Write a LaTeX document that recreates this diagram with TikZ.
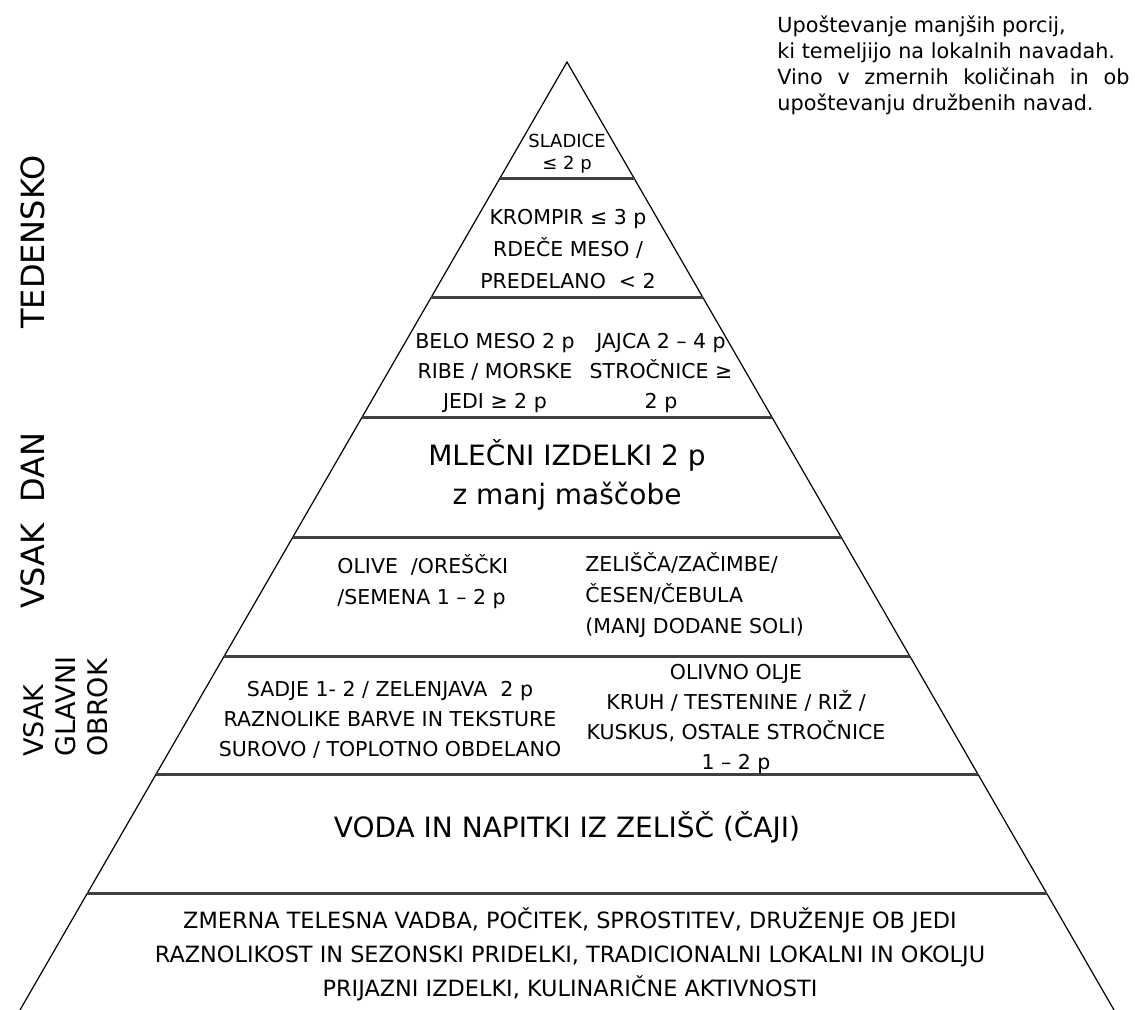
\documentclass[tikz,border=0pt]{standalone}
\usepackage{fontspec}
\setmainfont{DejaVu Sans}
\usetikzlibrary{calc}
\begin{document}
\begin{tikzpicture}[x=0.5pt,y=-0.5pt,
  side/.style={line width=0.6pt,black},
  divline/.style={line width=1.5pt,black!75},
  txt/.style={inner sep=0pt,align=center},
  fsmall/.style={font=\fontsize{10.25}{15.5}\selectfont},
  ftiny/.style={font=\fontsize{9}{11}\selectfont},
  fbig/.style={font=\fontsize{14}{19.5}\selectfont},
  fbase/.style={font=\fontsize{11.2}{17}\selectfont},
  fside/.style={font=\fontsize{16}{16}\selectfont},
  fmeal/.style={font=\fontsize{13.5}{16}\selectfont},
  fnote/.style={font=\fontsize{10.4}{13}\selectfont}]
\useasboundingbox (0,0) rectangle (1135,1010);
\begin{scope}
\clip (0,0) rectangle (1135,1010);
\coordinate (apex) at (567,62);
\coordinate (bl) at (20,1010);
\coordinate (br) at (1114,1010);
\draw[side] (bl) -- (apex) -- (br);
\foreach \t in {0.1234,0.2489,0.3755,0.5011,0.6266,0.7521,0.8776}{
  \draw[divline] ($(apex)!\t!(bl)$) -- ($(apex)!\t!(br)$);
}
\end{scope}
% top-right note
\node[fnote,inner sep=0pt,anchor=north west,align=left] (note) at (777,15)
 {Upoštevanje manjših porcij,\\
  ki temeljijo na lokalnih navadah.\\
  \hbox to 176pt{Vino\hfill v\hfill zmernih\hfill količinah\hfill in\hfill ob}\\
  upoštevanju družbenih navad.};
% side labels
\node[fside,inner sep=0pt,rotate=90] (weekly) at (33,242) {TEDENSKO};
\node[fside,inner sep=0pt,rotate=90] (daily) at (33,521) {VSAK\ \ DAN};
\node[fmeal,inner sep=0pt,rotate=90,anchor=west,align=left] (meal) at (66,757) {VSAK\\GLAVNI\\OBROK};
% levels
\node[txt,ftiny] (sweets) at (567,154) {SLADICE\\≤ 2 p};
\node[txt,fsmall,font=\fontsize{10.25}{16}\selectfont] (potato) at (568,249) {KROMPIR ≤ 3 p\\RDEČE MESO /\\PREDELANO\ \ < 2};
\node[txt,fsmall,font=\fontsize{10.25}{15}\selectfont] (meat) at (495,373) {BELO MESO 2 p\\RIBE / MORSKE\\JEDI ≥ 2 p};
\node[txt,fsmall,font=\fontsize{10.25}{15}\selectfont] (eggs) at (661,373) {JAJCA 2 – 4 p\\STROČNICE ≥\\2 p};
\node[txt,fbig] (dairy) at (567,475) {MLEČNI IZDELKI 2 p\\z manj maščobe};
\node[txt,fsmall,align=left,anchor=west] (olives) at (337,582) {OLIVE\ \ /OREŠČKI\\/SEMENA 1 – 2 p};
\node[txt,fsmall,align=left,anchor=west] (herbs) at (585,595) {ZELIŠČA/ZAČIMBE/\\ČESEN/ČEBULA\\(MANJ DODANE SOLI)};
\node[txt,fsmall,font=\fontsize{10.25}{15}\selectfont] (fruit) at (390,720) {SADJE 1- 2 / ZELENJAVA\ \ 2 p\\RAZNOLIKE BARVE IN TEKSTURE\\SUROVO / TOPLOTNO OBDELANO};
\node[txt,fsmall,font=\fontsize{10.25}{15}\selectfont] (bread) at (736,719) {OLIVNO OLJE\\KRUH / TESTENINE / RIŽ /\\KUSKUS, OSTALE STROČNICE\\1 – 2 p};
\node[txt,fbig] (water) at (567,827) {VODA IN NAPITKI IZ ZELIŠČ (ČAJI)};
\node[txt,fbase] (base) at (570,954) {ZMERNA TELESNA VADBA, POČITEK, SPROSTITEV, DRUŽENJE OB JEDI\\RAZNOLIKOST IN SEZONSKI PRIDELKI, TRADICIONALNI LOKALNI IN OKOLJU\\PRIJAZNI IZDELKI, KULINARIČNE AKTIVNOSTI};
\end{tikzpicture}
\end{document}
